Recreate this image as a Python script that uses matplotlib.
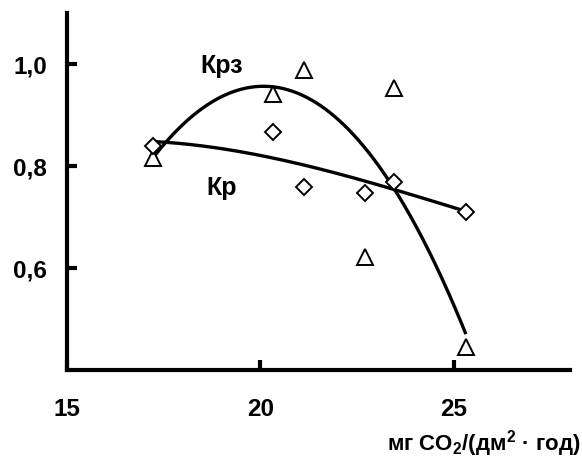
import numpy as np
import matplotlib
matplotlib.use("Agg")
import matplotlib.pyplot as plt

plt.rcParams['font.family'] = ['Liberation Sans', 'DejaVu Sans']
plt.rcParams['mathtext.fontset'] = 'custom'
plt.rcParams['mathtext.rm'] = 'Liberation Sans'
plt.rcParams['mathtext.bf'] = 'Liberation Sans:bold'

# data
x_vals = [17.23, 20.32, 21.13, 22.70, 23.46, 25.32]
krz = [0.816, 0.942, 0.989, 0.623, 0.953, 0.445]   # triangles
kr = [0.839, 0.867, 0.759, 0.748, 0.770, 0.710]    # diamonds
# trend-line values
krz_trend_x = [17.23, 18.43, 19.63, 20.06, 21.43, 22.29, 23.45, 23.92, 24.61, 25.30]
krz_trend_y = [0.820, 0.903, 0.953, 0.958, 0.929, 0.876, 0.755, 0.694, 0.590, 0.479]
kr_trend_x = [17.23, 18.00, 19.72, 20.32, 21.43, 22.29, 23.45, 25.30]
kr_trend_y = [0.847, 0.847, 0.828, 0.811, 0.798, 0.781, 0.755, 0.712]
x_ticks = [15, 20, 25]
y_ticks = [0.6, 0.8, 1.0]
y_tick_labels = ['0,6', '0,8', '1,0']

fig = plt.figure(figsize=(5.82, 4.65), dpi=100)
ax = fig.add_axes([0.1146, 0.2034, 0.979 - 0.1146, (465 - 13.3) / 465 - 0.2034])

xf1 = np.linspace(min(krz_trend_x), max(krz_trend_x), 200)
xf2 = np.linspace(min(kr_trend_x), max(kr_trend_x), 200)
p_krz = np.polyfit(krz_trend_x, krz_trend_y, 3)
p_kr = np.polyfit(kr_trend_x, kr_trend_y, 3)
ax.plot(xf1, np.polyval(p_krz, xf1), color='black', lw=2.4, zorder=2)
ax.plot(xf2, np.polyval(p_kr, xf2), color='black', lw=2.4, zorder=2)

ax.plot(x_vals, krz, linestyle='none', marker='^', ms=12, mfc='white',
        mec='black', mew=1.4, zorder=3)
ax.plot(x_vals, kr, linestyle='none', marker='D', ms=8, mfc='white',
        mec='black', mew=1.4, zorder=3)

ax.text(19.0, 0.997, 'Крз', fontsize=18, fontweight='bold', ha='center', va='center')
ax.text(19.0, 0.757, 'Кр', fontsize=18, fontweight='bold', ha='center', va='center')

ax.set_xlim(15, 28)
ax.set_ylim(0.4, 1.1)
ax.set_xticks(x_ticks)
ax.set_yticks(y_ticks)
ax.set_yticklabels(y_tick_labels)
ax.tick_params(direction='in', length=7, width=3, labelsize=17.5)
ax.tick_params(axis='x', pad=20)
ax.tick_params(axis='y', pad=14)
for lab in ax.get_xticklabels() + ax.get_yticklabels():
    lab.set_fontweight('bold')
for s in ['top', 'right']:
    ax.spines[s].set_visible(False)
for s in ['left', 'bottom']:
    ax.spines[s].set_linewidth(3)

fig.text(0.997, 0.047, 'мг CO$_\\mathbf{2}$/(дм$^\\mathbf{2}$ · год)', fontsize=16,
         fontweight='bold', ha='right', va='center')

fig.savefig('out.png', dpi=100)
